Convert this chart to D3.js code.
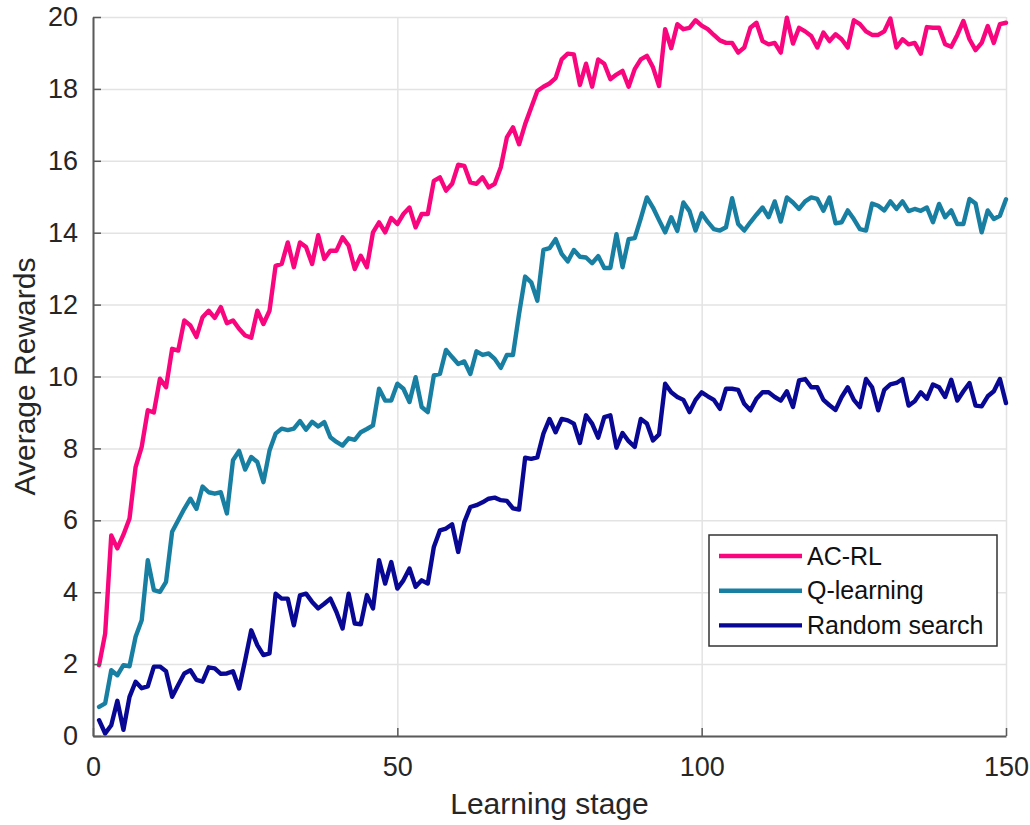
<!DOCTYPE html>
<html>
<head>
<meta charset="utf-8">
<script src="https://cdn.jsdelivr.net/npm/d3@7"></script>
<style>
  html, body { margin: 0; padding: 0; background: #fff; }
  svg { display: block; font-family: "Liberation Sans", Arial, Helvetica, sans-serif; }
</style>
</head>
<body>
<svg id="chart" width="1030" height="825"></svg>
<script>
// Learning stages 1..150
const stages = d3.range(1, 151);

// Average rewards per learning stage
const acrl = [
  1.97, 2.85, 5.58, 5.22, 5.60, 6.05, 7.48, 8.04, 9.06, 9.00,
  9.94, 9.70, 10.77, 10.72, 11.56, 11.42, 11.10, 11.65, 11.83, 11.63,
  11.93, 11.48, 11.56, 11.33, 11.14, 11.08, 11.83, 11.46, 11.83, 13.08,
  13.13, 13.73, 13.04, 13.73, 13.60, 13.13, 13.93, 13.27, 13.50, 13.50,
  13.87, 13.64, 12.99, 13.36, 13.04, 14.01, 14.29, 14.01, 14.41, 14.24,
  14.52, 14.70, 14.15, 14.52, 14.52, 15.44, 15.54, 15.17, 15.36, 15.89,
  15.86, 15.40, 15.36, 15.54, 15.26, 15.36, 15.82, 16.65, 16.93, 16.46,
  17.02, 17.48, 17.94, 18.06, 18.15, 18.30, 18.82, 18.98, 18.96, 18.11,
  18.70, 18.06, 18.82, 18.70, 18.27, 18.40, 18.50, 18.06, 18.55, 18.82,
  18.92, 18.60, 18.08, 19.66, 19.13, 19.80, 19.66, 19.70, 19.91, 19.76,
  19.66, 19.50, 19.35, 19.28, 19.28, 19.01, 19.15, 19.70, 19.84, 19.33,
  19.24, 19.28, 19.01, 19.98, 19.26, 19.70, 19.60, 19.47, 19.15, 19.57,
  19.33, 19.52, 19.38, 19.15, 19.91, 19.80, 19.60, 19.50, 19.50, 19.60,
  19.96, 19.15, 19.38, 19.24, 19.28, 18.98, 19.72, 19.70, 19.70, 19.24,
  19.17, 19.50, 19.89, 19.38, 19.08, 19.28, 19.75, 19.28, 19.80, 19.84
];

const qlearning = [
  0.81, 0.91, 1.83, 1.69, 1.97, 1.94, 2.76, 3.22, 4.89, 4.06,
  4.01, 4.29, 5.68, 6.00, 6.32, 6.60, 6.32, 6.94, 6.78, 6.74,
  6.78, 6.19, 7.67, 7.93, 7.41, 7.76, 7.62, 7.06, 7.94, 8.41,
  8.55, 8.51, 8.55, 8.76, 8.52, 8.74, 8.61, 8.73, 8.31, 8.18,
  8.08, 8.28, 8.24, 8.45, 8.54, 8.64, 9.66, 9.33, 9.33, 9.80,
  9.66, 9.29, 9.98, 9.15, 9.01, 10.03, 10.07, 10.74, 10.54, 10.35,
  10.42, 10.07, 10.70, 10.60, 10.64, 10.49, 10.24, 10.60, 10.60, 11.74,
  12.78, 12.62, 12.11, 13.52, 13.57, 13.82, 13.41, 13.20, 13.52, 13.33,
  13.31, 13.15, 13.35, 13.02, 13.02, 13.96, 13.04, 13.82, 13.85, 14.40,
  14.98, 14.70, 14.35, 14.01, 14.43, 14.05, 14.84, 14.60, 14.06, 14.54,
  14.30, 14.10, 14.06, 14.15, 14.96, 14.24, 14.06, 14.29, 14.50, 14.70,
  14.43, 14.87, 14.31, 14.98, 14.84, 14.66, 14.87, 14.98, 14.94, 14.61,
  14.98, 14.26, 14.29, 14.62, 14.38, 14.10, 14.06, 14.81, 14.75, 14.62,
  14.87, 14.66, 14.87, 14.60, 14.66, 14.61, 14.70, 14.29, 14.80, 14.43,
  14.62, 14.24, 14.24, 14.94, 14.81, 14.01, 14.62, 14.38, 14.47, 14.93
];

const randomSearch = [
  0.44, 0.07, 0.30, 0.98, 0.17, 1.09, 1.51, 1.33, 1.38, 1.93,
  1.93, 1.80, 1.09, 1.42, 1.74, 1.83, 1.56, 1.51, 1.91, 1.88,
  1.73, 1.74, 1.80, 1.32, 2.11, 2.94, 2.53, 2.25, 2.30, 3.96,
  3.82, 3.82, 3.08, 3.91, 3.96, 3.73, 3.55, 3.68, 3.82, 3.45,
  2.99, 3.96, 3.13, 3.11, 3.92, 3.55, 4.89, 4.24, 4.84, 4.10,
  4.33, 4.66, 4.15, 4.33, 4.24, 5.26, 5.72, 5.77, 5.89, 5.12,
  5.95, 6.37, 6.42, 6.50, 6.60, 6.63, 6.56, 6.54, 6.33, 6.30,
  7.74, 7.71, 7.75, 8.41, 8.82, 8.45, 8.82, 8.78, 8.69, 8.15,
  8.92, 8.69, 8.30, 8.87, 8.92, 8.02, 8.43, 8.20, 8.04, 8.82,
  8.69, 8.22, 8.39, 9.80, 9.56, 9.43, 9.35, 9.01, 9.35, 9.56,
  9.45, 9.35, 9.10, 9.66, 9.66, 9.63, 9.24, 9.06, 9.38, 9.56,
  9.56, 9.43, 9.33, 9.59, 9.15, 9.89, 9.93, 9.70, 9.70, 9.35,
  9.20, 9.07, 9.43, 9.70, 9.35, 9.15, 9.93, 9.70, 9.06, 9.63,
  9.78, 9.82, 9.93, 9.19, 9.31, 9.56, 9.38, 9.78, 9.70, 9.43,
  9.91, 9.33, 9.59, 9.82, 9.19, 9.17, 9.45, 9.59, 9.93, 9.26
];

const seriesNames = ["AC-RL", "Q-learning", "Random search"];
const seriesColors = ["#f9067f", "#187fa2", "#080894"];
const xTicks = [0, 50, 100, 150];
const yTicks = [0, 2, 4, 6, 8, 10, 12, 14, 16, 18, 20];

const svg = d3.select("#chart");
const margin = { left: 93, right: 24, top: 17, bottom: 89 };
const W = 1030, H = 825;
const iw = W - margin.left - margin.right;
const ih = H - margin.top - margin.bottom;

const x = d3.scaleLinear().domain([0, 150]).range([0, iw]);
const y = d3.scaleLinear().domain([0, 20]).range([ih, 0]);

const g = svg.append("g").attr("transform", `translate(${margin.left},${margin.top})`);

// grid
g.append("g")
  .attr("class", "grid")
  .call(d3.axisLeft(y).tickValues(yTicks).tickSize(-iw).tickFormat(""))
  .call(s => s.select(".domain").remove())
  .call(s => s.selectAll("line").attr("stroke", "#e3e3e3").attr("stroke-width", 1.5));
g.append("g")
  .attr("class", "grid")
  .attr("transform", `translate(0,${ih})`)
  .call(d3.axisBottom(x).tickValues(xTicks).tickSize(-ih).tickFormat(""))
  .call(s => s.select(".domain").remove())
  .call(s => s.selectAll("line").attr("stroke", "#e3e3e3").attr("stroke-width", 1.5));

// series lines
const data = [acrl, qlearning, randomSearch];
const line = d3.line().x((d, i) => x(stages[i])).y(d => y(d));
data.forEach((vals, k) => {
  g.append("path")
    .datum(vals)
    .attr("fill", "none")
    .attr("stroke", seriesColors[k])
    .attr("stroke-width", 4.4)
    .attr("stroke-linejoin", "round")
    .attr("stroke-linecap", "round")
    .attr("d", line);
});

// axes
const axisColor = "#5a5a5a";
const textColor = "#262626";
const xAxis = g.append("g")
  .attr("transform", `translate(0,${ih})`)
  .call(d3.axisBottom(x).tickValues(xTicks).tickSizeInner(-8).tickSizeOuter(0).tickPadding(21));
xAxis.select(".domain").attr("stroke", axisColor).attr("stroke-width", 2);
xAxis.selectAll(".tick line").attr("stroke", axisColor).attr("stroke-width", 1.5);
xAxis.selectAll("text").attr("fill", textColor).attr("font-size", 27)
  .attr("font-family", "Liberation Sans, Arial, sans-serif");

const yAxis = g.append("g")
  .call(d3.axisLeft(y).tickValues(yTicks).tickSizeInner(-8).tickSizeOuter(0).tickPadding(15));
yAxis.select(".domain").attr("stroke", axisColor).attr("stroke-width", 2);
yAxis.selectAll(".tick line").attr("stroke", axisColor).attr("stroke-width", 1.5);
yAxis.selectAll("text").attr("fill", textColor).attr("font-size", 27)
  .attr("font-family", "Liberation Sans, Arial, sans-serif");

// axis titles
svg.append("text")
  .attr("x", margin.left + iw / 2)
  .attr("y", 814)
  .attr("text-anchor", "middle")
  .attr("fill", textColor)
  .attr("font-size", 30)
  .text("Learning stage");
svg.append("text")
  .attr("transform", `translate(35,${margin.top + ih / 2}) rotate(-90)`)
  .attr("text-anchor", "middle")
  .attr("fill", textColor)
  .attr("font-size", 30)
  .text("Average Rewards");

// legend
const legend = svg.append("g").attr("transform", "translate(709,535)");
legend.append("rect")
  .attr("width", 288).attr("height", 111)
  .attr("fill", "#fff").attr("stroke", "#333").attr("stroke-width", 1.5);
seriesNames.forEach((name, k) => {
  const yy = 21 + k * 34.7;
  legend.append("line")
    .attr("x1", 10).attr("x2", 93).attr("y1", yy).attr("y2", yy)
    .attr("stroke", seriesColors[k]).attr("stroke-width", 4.4);
  legend.append("text")
    .attr("x", 98).attr("y", yy).attr("dy", "0.35em")
    .attr("fill", "#111").attr("font-size", 25)
    .text(name);
});
</script>
</body>
</html>
